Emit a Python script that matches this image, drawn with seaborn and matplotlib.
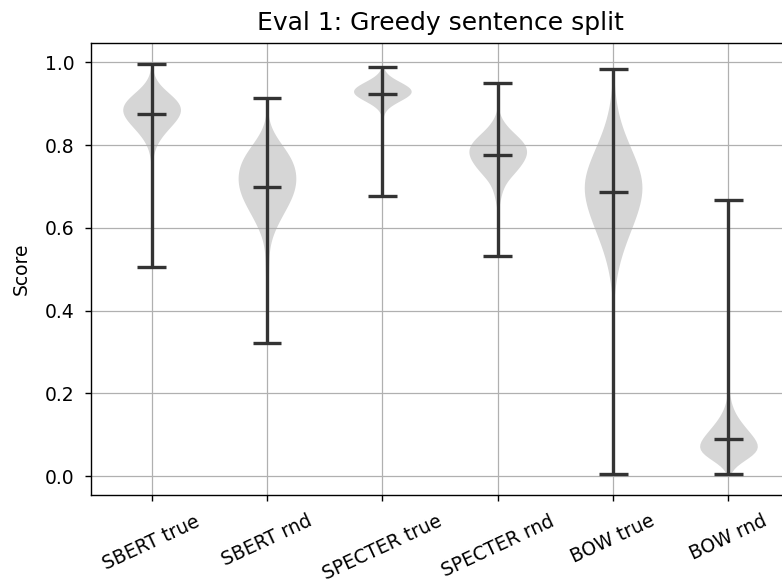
import numpy as np
import pandas as pd
import matplotlib
matplotlib.use("Agg")
import matplotlib.pyplot as plt
import seaborn as sns

# Models compared in evaluation 1
labels = ["SBERT true", "SBERT rnd", "SPECTER true", "SPECTER rnd", "BOW true", "BOW rnd"]

# Score frequency tables (score value -> number of sentence pairs)
sbert_true_scores = [0.506, 0.60, 0.65, 0.70, 0.74, 0.77, 0.78, 0.79, 0.80, 0.81, 0.82, 0.83,
                     0.84, 0.85, 0.86, 0.87, 0.88, 0.89, 0.90, 0.91, 0.92, 0.93, 0.94, 0.95,
                     0.96, 0.97, 0.997]
sbert_true_counts = [1, 1, 1, 1, 1, 1, 1, 2, 2, 4, 6, 8,
                     10, 13, 16, 18, 19, 20, 19, 16, 13, 9, 5, 3,
                     2, 1, 1]

sbert_rnd_scores = [0.321, 0.36, 0.40, 0.42, 0.45, 0.48, 0.50, 0.51, 0.53, 0.55, 0.57, 0.59,
                    0.61, 0.63, 0.65, 0.67, 0.69, 0.71, 0.73, 0.75, 0.77, 0.79, 0.81, 0.83,
                    0.85, 0.914]
sbert_rnd_counts = [1, 1, 1, 1, 1, 1, 1, 1, 1, 1, 2, 4,
                    7, 10, 13, 17, 19, 20, 20, 19, 17, 13, 7, 3,
                    1, 1]

specter_true_scores = [0.678, 0.75, 0.80, 0.83, 0.85, 0.88, 0.89, 0.90, 0.91, 0.92, 0.93, 0.94,
                       0.95, 0.96, 0.97, 0.989]
specter_true_counts = [1, 1, 1, 1, 1, 1, 2, 6, 14, 21, 25, 21,
                       14, 6, 2, 1]

specter_rnd_scores = [0.531, 0.65, 0.66, 0.67, 0.68, 0.69, 0.70, 0.71, 0.72, 0.73, 0.74, 0.75,
                      0.76, 0.77, 0.78, 0.79, 0.80, 0.81, 0.82, 0.83, 0.84, 0.85, 0.86, 0.87,
                      0.88, 0.949]
specter_rnd_counts = [1, 1, 1, 2, 2, 3, 4, 5, 7, 11, 13, 15,
                      17, 19, 20, 20, 19, 17, 14, 10, 7, 5, 3, 1,
                      1, 1]

bow_true_scores = [0.004, 0.20, 0.35, 0.44, 0.46, 0.48, 0.50, 0.52, 0.54, 0.56, 0.58, 0.60,
                   0.62, 0.64, 0.66, 0.68, 0.70, 0.72, 0.74, 0.76, 0.78, 0.80, 0.82, 0.84,
                   0.86, 0.88, 0.90, 0.92, 0.94, 0.984]
bow_true_counts = [1, 1, 1, 1, 1, 2, 3, 4, 6, 8, 10, 12,
                   15, 17, 18, 20, 21, 20, 18, 16, 13, 11, 8, 6,
                   4, 3, 2, 1, 1, 1]

bow_rnd_scores = [0.004, 0.02, 0.03, 0.04, 0.05, 0.06, 0.07, 0.08, 0.09, 0.10, 0.11, 0.12,
                  0.13, 0.14, 0.15, 0.16, 0.17, 0.18, 0.19, 0.20, 0.667]
bow_rnd_counts = [1, 2, 5, 13, 21, 26, 25, 23, 21, 18, 15, 12,
                  10, 7, 5, 4, 2, 2, 1, 1, 1]

tables = [
    (sbert_true_scores, sbert_true_counts),
    (sbert_rnd_scores, sbert_rnd_counts),
    (specter_true_scores, specter_true_counts),
    (specter_rnd_scores, specter_rnd_counts),
    (bow_true_scores, bow_true_counts),
    (bow_rnd_scores, bow_rnd_counts),
]

df = pd.concat(
    [pd.DataFrame({"model": name, "score": np.repeat(s, c)}) for name, (s, c) in zip(labels, tables)],
    ignore_index=True,
)

fig = plt.figure(figsize=(7.82, 5.87), dpi=100)
ax = fig.add_axes([0.1164, 0.1567, 0.8926, 0.770])

sns.violinplot(
    data=df, x="model", y="score", order=labels,
    color="gray", saturation=1, inner=None, cut=0,
    density_norm="width", width=0.5, linewidth=0,
    bw_method="scott", ax=ax,
)
for coll in ax.collections:
    coll.set_alpha(0.32)
    coll.set_zorder(1)

# extrema and mean markers
stats = df.groupby("model", sort=False)["score"].agg(["min", "max", "mean"]).reindex(labels)
pos = np.arange(len(labels))
line_kw = dict(color="#333333", linewidth=2.4, zorder=3)
ax.vlines(pos, stats["min"], stats["max"], **line_kw)
for col in ["min", "max", "mean"]:
    ax.hlines(stats[col], pos - 0.125, pos + 0.125, **line_kw)

ax.set_xlim(-0.525, len(labels) - 0.475)
ax.margins(y=0.05)
ax.grid(True, color="#b0b0b0", linewidth=0.9)
for side in ax.spines.values():
    side.set_linewidth(1.0)
ax.set_xlabel("")
ax.set_ylabel("Score", fontsize=13.5, labelpad=10)
ax.set_title("Eval 1: Greedy sentence split", fontsize=18, pad=9.5)
ax.tick_params(axis="both", labelsize=13.5, length=4.5, width=1.0, pad=7.5)
plt.setp(ax.get_xticklabels(), rotation=25)

fig.savefig("out.png", dpi=100)
